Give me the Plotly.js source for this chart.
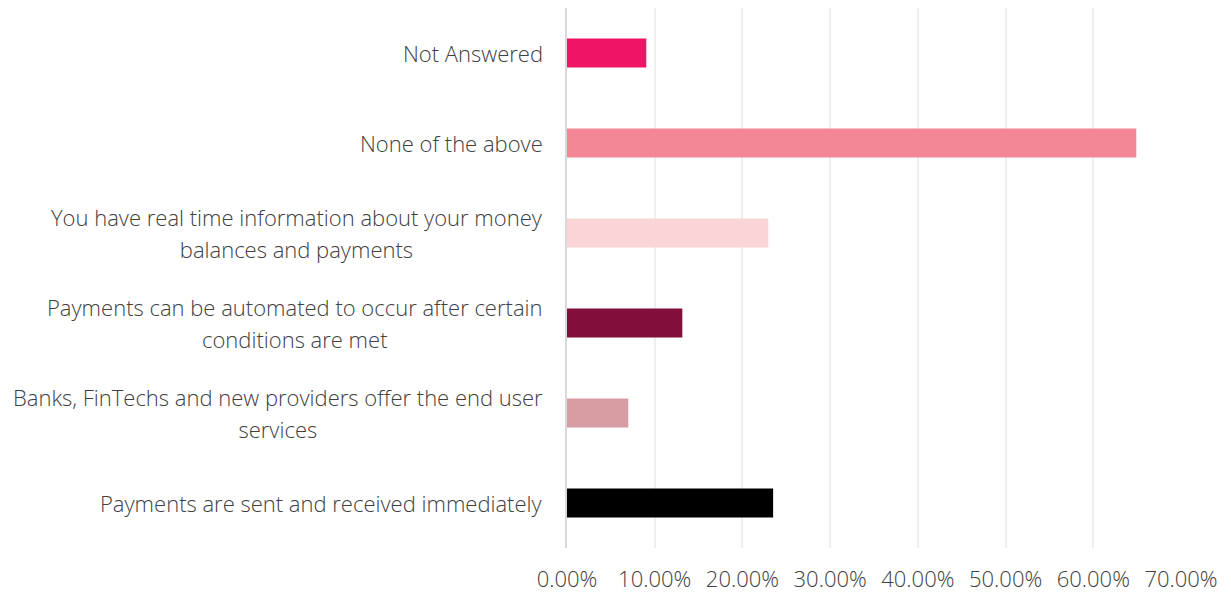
<!DOCTYPE html>
<html>
<head>
<meta charset="utf-8">
<script src="https://cdn.plot.ly/plotly-3.0.1.min.js"></script>
<style>html,body{margin:0;padding:0;background:#fff;}#chart{width:1231px;height:599px;}</style>
</head>
<body>
<div id="chart"></div>
<script>
const categories = [
  "Payments are sent and received immediately",
  "Banks, FinTechs and new providers offer the end user<br>services",
  "Payments can be automated to occur after certain<br>conditions are met",
  "You have real time information about your money<br>balances and payments",
  "None of the above",
  "Not Answered"
];
const values = [0.235, 0.0699, 0.1315, 0.2295, 0.649, 0.0904];
const colors = ["#000000", "#D89CA3", "#820E3A", "#FAD4D6", "#F38795", "#EE1466"];
const xTicks = [0, 0.1, 0.2, 0.3, 0.4, 0.5, 0.6, 0.7];

const font = {family: "Open Sans, Noto Sans, sans-serif", size: 22, color: "#404040", weight: 300};
const labelFont = Object.assign({}, font, {size: 24.6});

const trace = {
  type: "bar",
  orientation: "h",
  y: categories.map((c, i) => i),
  x: values,
  width: 0.32,
  marker: {color: colors},
  hoverinfo: "x+y"
};

const annotations = categories.map((c, i) => ({
  xref: "paper", yref: "y", x: 0, y: i,
  xanchor: "right", yanchor: "middle", xshift: -22,
  text: c.split("<br>").map(s => '<span style="font-size:22px">' + s + '</span>').join("<br>"),
  showarrow: false, align: "center", font: labelFont
}));

const layout = {
  width: 1231, height: 599,
  margin: {l: 567, r: 50, t: 8, b: 51},
  paper_bgcolor: "#ffffff", plot_bgcolor: "#ffffff",
  showlegend: false,
  font: font,
  xaxis: {
    range: [0, 0.7],
    tickvals: xTicks,
    tickformat: ".2%",
    showgrid: true, gridcolor: "#efefef", gridwidth: 2,
    zeroline: false, showline: false, ticks: "",
    ticklabelstandoff: 16,
    tickfont: font
  },
  yaxis: {
    range: [-0.5, 5.5],
    tickvals: [], showticklabels: false,
    showgrid: false, zeroline: false,
    showline: true, linecolor: "#d9d9d9", linewidth: 2
  },
  annotations: annotations
};

Plotly.newPlot("chart", [trace], layout, {displayModeBar: false, staticPlot: true});
</script>
</body>
</html>
